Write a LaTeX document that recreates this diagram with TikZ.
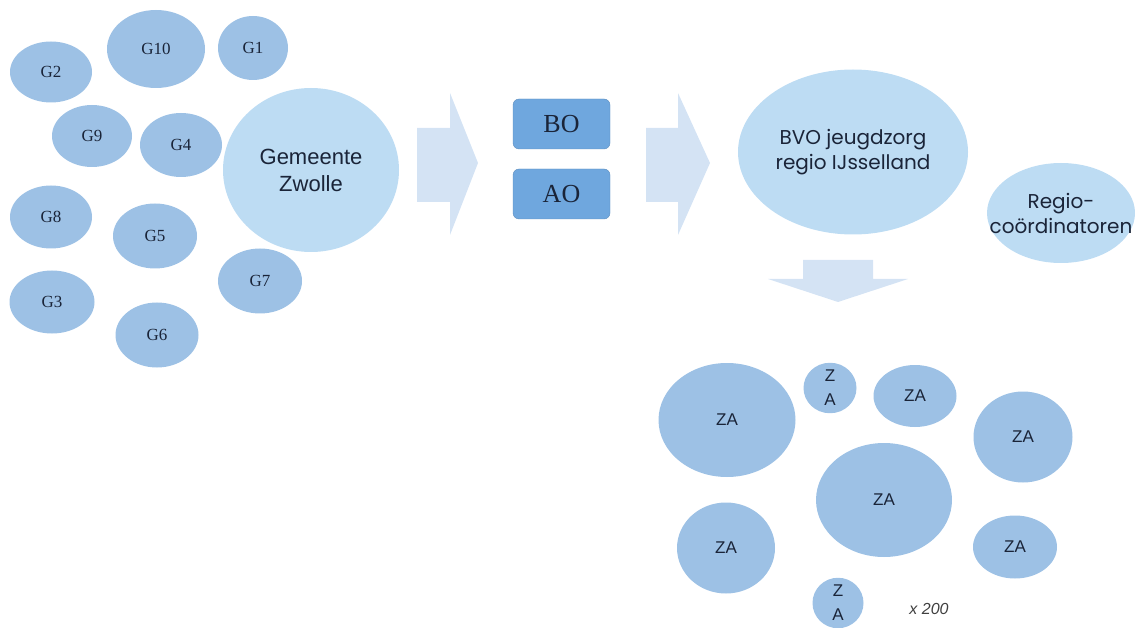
\documentclass[tikz,border=0pt]{standalone}
\usepackage{fontspec}
\setmainfont{Liberation Serif}
\setsansfont{Liberation Sans}
\newfontfamily\roundfont{Poppins}
\usetikzlibrary{shapes.geometric}
\definecolor{gblue}{RGB}{157,193,229}
\definecolor{lightblue}{RGB}{189,220,243}
\definecolor{boxblue}{RGB}{111,167,222}
\definecolor{arrowblue}{RGB}{212,227,244}
\definecolor{inkblue}{RGB}{26,36,56}

\begin{document}
\begin{tikzpicture}[x=1pt, y=-1pt,
  gem/.style={ellipse, fill=gblue, inner sep=0pt, text=inkblue, font=\fontsize{17}{17}\selectfont},
  big/.style={ellipse, fill=lightblue, inner sep=0pt, text=inkblue, align=center},
  block/.style={draw=boxblue!85!black, fill=boxblue, rounded corners=6pt, minimum width=97pt, minimum height=50pt, text=inkblue, font=\fontsize{26}{26}\selectfont},
  za/.style={ellipse, fill=gblue, inner sep=0pt, text=inkblue, align=center, font=\sffamily\fontsize{17}{24}\selectfont}]

  \useasboundingbox (0,0) rectangle (1135,628);

  % Municipalities
  \node[gem, minimum width=82pt, minimum height=61pt] (G2) at (51,72) {G2};
  \node[gem, minimum width=98pt, minimum height=78pt] (G10) at (156,49) {G10};
  \node[gem, minimum width=70pt, minimum height=64pt] (G1) at (253,48) {G1};
  \node[gem, minimum width=80pt, minimum height=62pt] (G9) at (92,136) {G9};
  \node[gem, minimum width=82pt, minimum height=64pt] (G4) at (181,145) {G4};
  \node[gem, minimum width=82pt, minimum height=63pt] (G8) at (51,217) {G8};
  \node[gem, minimum width=84pt, minimum height=65pt] (G5) at (155,236) {G5};
  \node[gem, minimum width=84pt, minimum height=65pt] (G7) at (260,281) {G7};
  \node[gem, minimum width=85pt, minimum height=63pt] (G3) at (52,302) {G3};
  \node[gem, minimum width=83pt, minimum height=65pt] (G6) at (157,335) {G6};
  \node[big, minimum width=176pt, minimum height=164pt, font=\sffamily\fontsize{22}{27}\selectfont] (zwolle) at (311,170) {Gemeente\\Zwolle};

  % Block arrows
  \fill[arrowblue] (417,128) -- (450,128) -- (450,93) -- (478,163) -- (450,235) -- (450,202) -- (417,202) -- cycle;
  \fill[arrowblue] (646,128) -- (678,128) -- (678,93) -- (710,163) -- (678,235) -- (678,202) -- (646,202) -- cycle;
  \fill[arrowblue] (803,260) -- (873,260) -- (873,279) -- (908,279) -- (838,302) -- (768,279) -- (803,279) -- cycle;

  % BO and AO
  \node[block] (BO) at (561.5,124) {BO};
  \node[block] (AO) at (561.5,194) {AO};

  % Region
  \node[big, minimum width=230pt, minimum height=165pt, font=\roundfont\fontsize{20}{25}\selectfont] (BVO) at (853,152) {BVO jeugdzorg\\regio IJsselland};
  \node[big, inner xsep=-21pt, minimum width=148pt, minimum height=100pt, font=\roundfont\fontsize{20}{25}\selectfont] (coord) at (1061,213) {Regio-\\coördinatoren};

  % Care providers
  \node[za, minimum width=137pt, minimum height=114pt] (ZA1) at (727,420) {ZA};
  \node[za, minimum width=53pt, minimum height=50pt] (ZA2) at (830,388) {Z\\A};
  \node[za, minimum width=83pt, minimum height=62pt] (ZA3) at (915,396) {ZA};
  \node[za, minimum width=99pt, minimum height=91pt] (ZA4) at (1023,437) {ZA};
  \node[za, minimum width=136pt, minimum height=114pt] (ZA5) at (884,500) {ZA};
  \node[za, minimum width=98pt, minimum height=91pt] (ZA6) at (726,548) {ZA};
  \node[za, minimum width=84pt, minimum height=63pt] (ZA7) at (1015,547) {ZA};
  \node[za, minimum width=51pt, minimum height=50pt] (ZA8) at (838,603) {Z\\A};
  \node[text=black!75, font=\sffamily\itshape\fontsize{16}{16}\selectfont] (times) at (929,609) {x 200};

\end{tikzpicture}
\end{document}
